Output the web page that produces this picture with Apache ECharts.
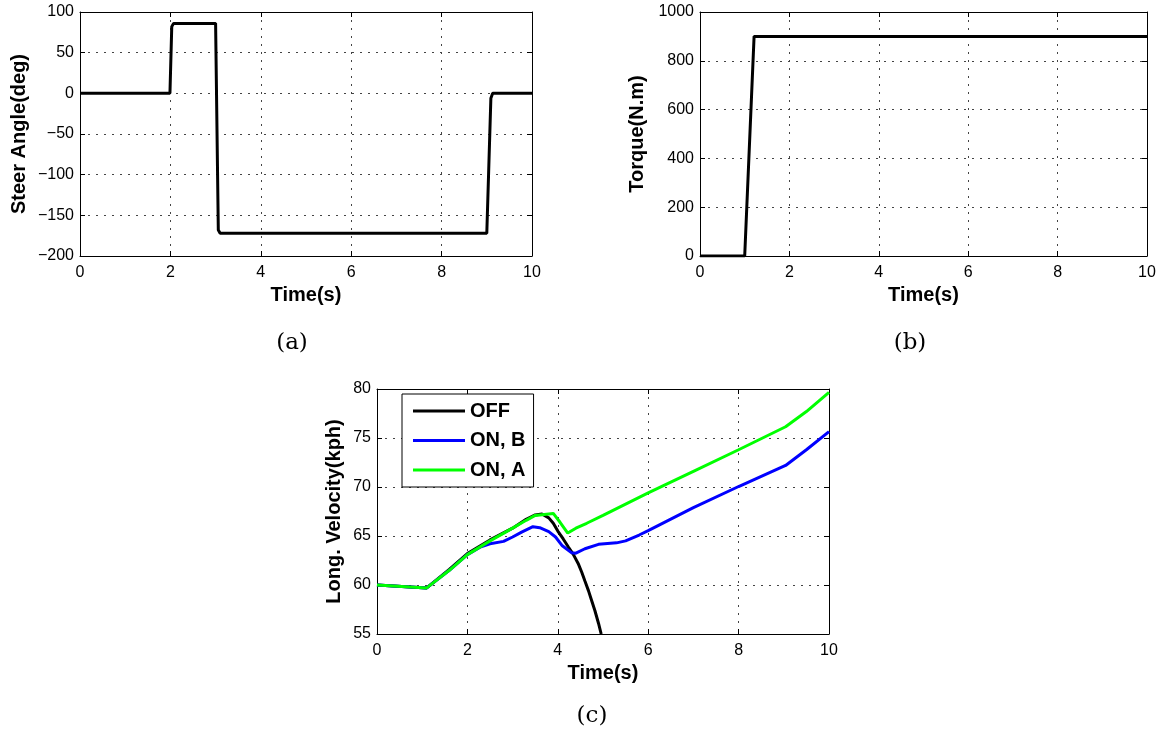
<!DOCTYPE html>
<html>
<head>
<meta charset="utf-8">
<script src="https://cdn.jsdelivr.net/npm/echarts@6/dist/echarts.min.js"></script>
<style>html,body{margin:0;padding:0;background:#fff;}#c{width:1165px;height:741px;}</style>
</head>
<body>
<div id="c"></div>
<script>
// ---- data ----
const steerTime  = [0, 1.99, 2.03, 2.07, 3.0, 3.06, 3.1, 9.0, 9.09, 9.13, 10];
const steerAngle = [0, 0, 82, 86, 86, -168, -172, -172, -6, 0, 0];

const torqueTime  = [0, 1.0, 1.21, 10];
const torqueValue = [0, 0, 900, 900];

const offTime = [0, 1.1, 1.6, 2.0, 2.5, 3.0, 3.3, 3.5, 3.65, 3.8, 3.9, 4.0, 4.12, 4.23, 4.34, 4.45, 4.53, 4.6, 4.68, 4.75, 4.82, 4.9, 4.96];
const offVel  = [60, 59.7, 61.6, 63.2, 64.6, 65.8, 66.7, 67.15, 67.25, 66.85, 66.3, 65.5, 64.7, 63.9, 63.15, 62.2, 61.3, 60.4, 59.4, 58.4, 57.4, 56.1, 55.0];

const onBTime = [0, 1.1, 1.6, 2.0, 2.3, 2.5, 2.8, 3.0, 3.2, 3.45, 3.6, 3.8, 3.95, 4.1, 4.3, 4.4, 4.6, 4.9, 5.3, 5.5, 5.8, 6.0, 7.0, 8.0, 9.04, 9.5, 10];
const onBVel  = [60, 59.7, 61.5, 63.1, 63.9, 64.2, 64.45, 64.9, 65.4, 65.95, 65.85, 65.45, 64.9, 64.0, 63.3, 63.25, 63.7, 64.15, 64.3, 64.5, 65.1, 65.55, 67.9, 70.05, 72.2, 73.8, 75.65];

const onATime = [0, 1.1, 1.6, 2.0, 2.5, 3.0, 3.3, 3.5, 3.9, 4.05, 4.22, 4.4, 4.64, 5.0, 6.0, 7.0, 8.0, 9.04, 9.5, 10];
const onAVel  = [60, 59.7, 61.5, 63.1, 64.5, 65.8, 66.6, 67.1, 67.3, 66.4, 65.3, 65.8, 66.3, 67.1, 69.4, 71.6, 73.8, 76.15, 77.7, 79.65];

const timeTicks = {min: 0, max: 10, interval: 2};
const steerTicks = {min: -200, max: 100, interval: 50};
const torqueTicks = {min: 0, max: 1000, interval: 200};
const velTicks = {min: 55, max: 80, interval: 5};

// ---- helpers ----
const pairs = (xs, ys) => xs.map((x, i) => [x, ys[i]]);
const FONT = 'Liberation Sans';
const minusFmt = v => String(v).replace('-', '\u2212');
const gridLine = {show: true, lineStyle: {type: [2, 6], color: '#444', width: 1}};
const axLine = {show: true, onZero: false, lineStyle: {color: '#000', width: 1}};
const tick = {show: true, inside: true, length: 5, lineStyle: {color: '#000', width: 1}};
const nameStyle = {fontFamily: FONT, fontWeight: 'bold', fontSize: 20, color: '#000'};
const labelStyle = {fontFamily: FONT, fontSize: 16, color: '#000', formatter: minusFmt};

function xAxes(gi) {
  return [
    Object.assign({type: 'value', gridIndex: gi, position: 'bottom',
      axisLine: axLine, axisTick: tick, splitLine: gridLine,
      axisLabel: Object.assign({margin: 9}, labelStyle),
      name: 'Time(s)', nameLocation: 'middle', nameGap: 29, nameTextStyle: nameStyle}, timeTicks),
    Object.assign({type: 'value', gridIndex: gi, position: 'top',
      axisLine: axLine, axisTick: tick, splitLine: {show: false},
      axisLabel: {show: false}}, timeTicks)
  ];
}
function yAxes(gi, ticks, name, gap) {
  return [
    Object.assign({type: 'value', gridIndex: gi, position: 'left',
      axisLine: axLine, axisTick: tick, splitLine: gridLine,
      axisLabel: Object.assign({margin: 6}, labelStyle),
      name: name, nameLocation: 'middle', nameGap: gap, nameTextStyle: nameStyle}, ticks),
    Object.assign({type: 'value', gridIndex: gi, position: 'right',
      axisLine: axLine, axisTick: tick, splitLine: {show: false},
      axisLabel: {show: false}}, ticks)
  ];
}

const chart = echarts.init(document.getElementById('c'), null, {renderer: 'canvas'});
chart.setOption({
  animation: false,
  backgroundColor: '#fff',
  grid: [
    {left: 80, top: 12, width: 452, height: 244, containLabel: false},
    {left: 700, top: 12, width: 447, height: 244, containLabel: false},
    {left: 377, top: 389, width: 452, height: 245, containLabel: false}
  ],
  xAxis: [].concat(xAxes(0), xAxes(1), xAxes(2)),
  yAxis: [].concat(
    yAxes(0, steerTicks, 'Steer Angle(deg)', 51),
    yAxes(1, torqueTicks, 'Torque(N.m)', 53),
    yAxes(2, velTicks, 'Long. Velocity(kph)', 33)
  ),
  legend: {
    left: 402, top: 394, orient: 'vertical',
    data: ['OFF', 'ON, B', 'ON, A'],
    icon: 'path://M0,0L52,0L52,3.2L0,3.2Z',
    backgroundColor: '#fff', borderColor: '#000', borderWidth: 1,
    padding: [7, 8, 7, 11],
    itemWidth: 52, itemHeight: 19, itemGap: 9.5,
    textStyle: {fontFamily: FONT, fontWeight: 'bold', fontSize: 20, color: '#000', lineHeight: 19}
  },
  graphic: [
    {type: 'text', x: 292, y: 343, style: {text: '(a)', font: '23px "DejaVu Serif"', fill: '#000', align: 'center', verticalAlign: 'middle'}},
    {type: 'text', x: 910, y: 343, style: {text: '(b)', font: '23px "DejaVu Serif"', fill: '#000', align: 'center', verticalAlign: 'middle'}},
    {type: 'text', x: 592, y: 716, style: {text: '(c)', font: '23px "DejaVu Serif"', fill: '#000', align: 'center', verticalAlign: 'middle'}}
  ],
  series: [
    {type: 'line', name: 'steer', xAxisIndex: 0, yAxisIndex: 0, data: pairs(steerTime, steerAngle),
      symbol: 'none', lineStyle: {color: '#000', width: 3}, itemStyle: {color: '#000'}},
    {type: 'line', name: 'torque', xAxisIndex: 2, yAxisIndex: 2, data: pairs(torqueTime, torqueValue),
      symbol: 'none', lineStyle: {color: '#000', width: 3}, itemStyle: {color: '#000'}},
    {type: 'line', name: 'OFF', xAxisIndex: 4, yAxisIndex: 4, data: pairs(offTime, offVel),
      symbol: 'none', lineStyle: {color: '#000', width: 3}, itemStyle: {color: '#000'}},
    {type: 'line', name: 'ON, B', xAxisIndex: 4, yAxisIndex: 4, data: pairs(onBTime, onBVel),
      symbol: 'none', lineStyle: {color: '#0000ff', width: 3}, itemStyle: {color: '#0000ff'}},
    {type: 'line', name: 'ON, A', xAxisIndex: 4, yAxisIndex: 4, data: pairs(onATime, onAVel),
      symbol: 'none', lineStyle: {color: '#00ff00', width: 3}, itemStyle: {color: '#00ff00'}}
  ]
});
</script>
</body>
</html>
